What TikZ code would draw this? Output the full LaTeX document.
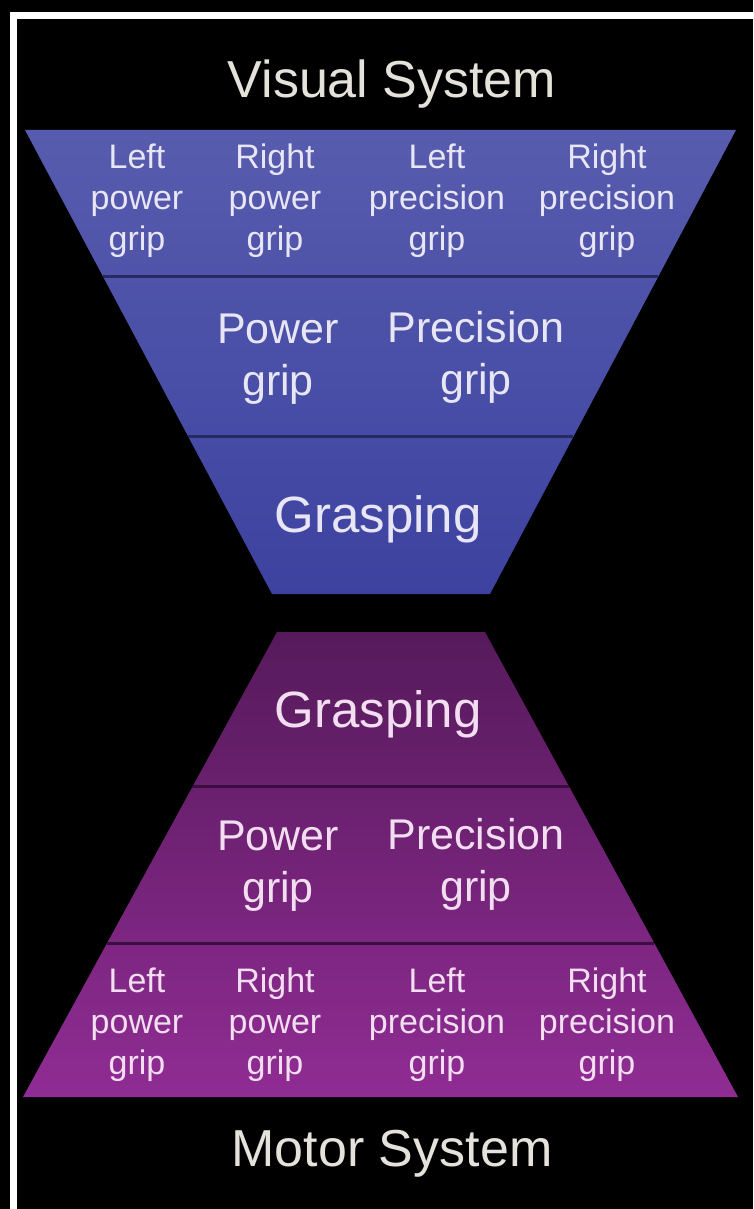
\documentclass[tikz,border=0pt]{standalone}
\usepackage{fontspec}
\setmainfont{Liberation Sans}
\usetikzlibrary{calc}
\definecolor{bluetop}{HTML}{575CAE}
\definecolor{bluebot}{HTML}{3D42A0}
\definecolor{purptop}{HTML}{561A5B}
\definecolor{purpbot}{HTML}{902C94}
\definecolor{bluesep}{HTML}{262A62}
\definecolor{purpsep}{HTML}{3A0E40}
\definecolor{bluetext}{HTML}{E8E6F4}
\definecolor{purptext}{HTML}{F2DEF0}
\definecolor{titletext}{HTML}{E4E2DA}
\tikzset{
  small/.style={text=#1, align=center, font=\fontsize{34}{41}\selectfont, inner sep=0pt},
  mid/.style={text=#1, align=center, font=\fontsize{43}{52}\selectfont, inner sep=0pt},
  big/.style={text=#1, font=\fontsize{51}{60}\selectfont, inner sep=0pt},
  title/.style={text=titletext, font=\fontsize{52}{60}\selectfont, inner sep=0pt},
  sepline/.style={draw=#1, line width=3pt},
}
\begin{document}
\begin{tikzpicture}[x=1pt,y=-1pt]
\useasboundingbox (0,0) rectangle (753,1209);
\clip (0,0) rectangle (753,1209);
\fill[black] (0,0) rectangle (753,1209);
\draw[white, line width=7pt] (13,15.5) rectangle (820,1300);

% Visual (top) funnel
\coordinate (VTL) at (25,130);
\coordinate (VTR) at (736,130);
\coordinate (VBR) at (490,594);
\coordinate (VBL) at (272,594);
\shade[top color=bluetop, bottom color=bluebot] (VTL) -- (VTR) -- (VBR) -- (VBL) -- cycle;
\begin{scope}
  \clip (VTL) -- (VTR) -- (VBR) -- (VBL) -- cycle;
  \draw[sepline=bluesep] ($(VTL)!0.3168!(VBL)$) -- ($(VTR)!0.3168!(VBR)$);
  \draw[sepline=bluesep] ($(VTL)!0.6616!(VBL)$) -- ($(VTR)!0.6616!(VBR)$);
\end{scope}

% Motor (bottom) pyramid
\coordinate (MTL) at (277,632);
\coordinate (MTR) at (485,632);
\coordinate (MBR) at (738,1097);
\coordinate (MBL) at (23,1097);
\shade[top color=purptop, bottom color=purpbot] (MTL) -- (MTR) -- (MBR) -- (MBL) -- cycle;
\begin{scope}
  \clip (MTL) -- (MTR) -- (MBR) -- (MBL) -- cycle;
  \draw[sepline=purpsep] ($(MTL)!0.3333!(MBL)$) -- ($(MTR)!0.3333!(MBR)$);
  \draw[sepline=purpsep] ($(MTL)!0.6688!(MBL)$) -- ($(MTR)!0.6688!(MBR)$);
\end{scope}

% Titles
\node[title] (vis) at (392,84) {Visual System};
\node[title] (mot) at (392,1154) {Motor System};

% Top labels
\node[small=bluetext] (v1) at (137,201) {Left\\power\\grip};
\node[small=bluetext] (v2) at (275,201) {Right\\power\\grip};
\node[small=bluetext] (v3) at (437,201) {Left\\precision\\grip};
\node[small=bluetext] (v4) at (607,201) {Right\\precision\\grip};
\node[mid=bluetext] (v5) at (278,359) {Power\\grip};
\node[mid=bluetext] (v6) at (476,357) {Precision\\grip};
\node[big=bluetext] (v7) at (378,519) {Grasping};

% Bottom labels
\node[big=purptext] (m7) at (378,714) {Grasping};
\node[mid=purptext] (m5) at (278,866) {Power\\grip};
\node[mid=purptext] (m6) at (476,864) {Precision\\grip};
\node[small=purptext] (m1) at (137,1025) {Left\\power\\grip};
\node[small=purptext] (m2) at (275,1025) {Right\\power\\grip};
\node[small=purptext] (m3) at (437,1025) {Left\\precision\\grip};
\node[small=purptext] (m4) at (607,1025) {Right\\precision\\grip};
\end{tikzpicture}
\end{document}
